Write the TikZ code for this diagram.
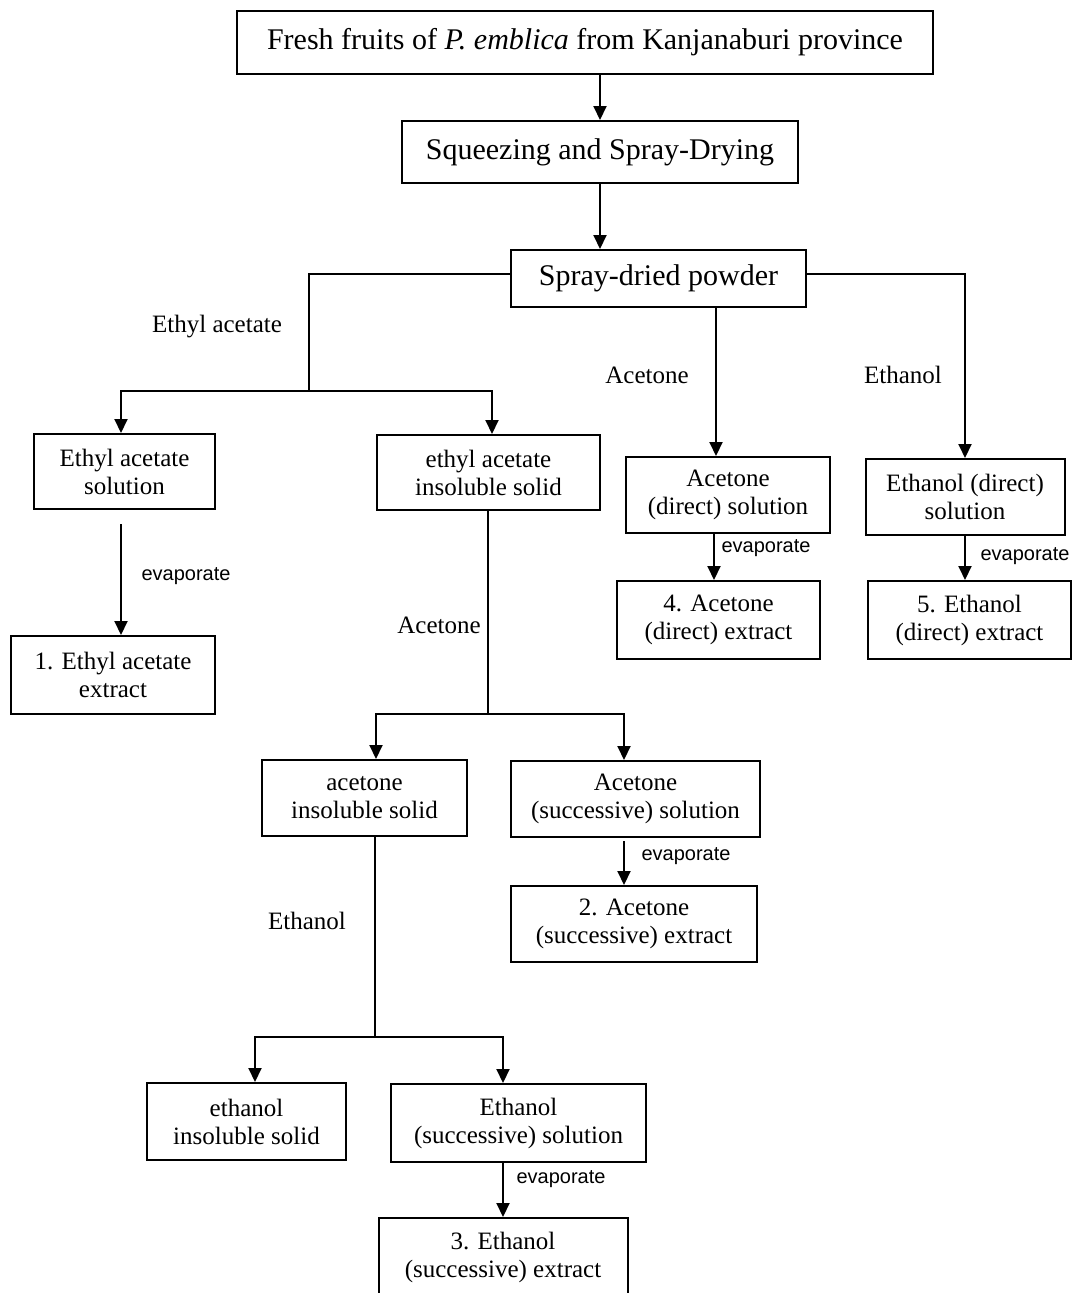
\documentclass[tikz,border=0pt]{standalone}
\usepackage{fontspec}
\setmainfont{Liberation Serif}
\newfontfamily\arialfont{Liberation Sans}
\usetikzlibrary{arrows.meta}
\tikzset{
    bigbox/.style = {rectangle, draw=black, line width=2pt, align=center, inner sep=0pt, font=\fontsize{30}{34}\selectfont},
    stepbox/.style = {rectangle, draw=black, line width=2pt, align=center, inner sep=0pt, font=\fontsize{25}{28}\selectfont},
    solvent/.style = {align=center, inner sep=0pt, font=\fontsize{25}{28}\selectfont},
    evap/.style = {inner sep=0pt, font=\arialfont\fontsize{20}{24}\selectfont},
    edgen/.style = {-, line width=2pt, black},
    edgea/.style = {-{Triangle[width=13pt,length=14pt]}, line width=2pt, black}
}

\begin{document}
\begin{tikzpicture}[x=1pt,y=-1pt]
\useasboundingbox (0,0) rectangle (1073,1293);

% main line
\node[bigbox, minimum width=696pt, minimum height=63pt] at (585, 42.5) (fresh) {Fresh fruits of \textit{P. emblica} from Kanjanaburi province};
\node[bigbox, minimum width=396pt, minimum height=62pt] at (600, 152) (squeeze) {Squeezing and Spray-Drying};
\node[bigbox, minimum width=295pt, minimum height=57pt] at (658.5, 278.5) (powder) {Spray-dried powder};

% first extraction
\node[stepbox, minimum width=181pt, minimum height=75pt] at (124.5, 471.5) (easol) {Ethyl acetate\\solution};
\node[stepbox, minimum width=223pt, minimum height=75pt] at (488.5, 472.5) (eainsol) {ethyl acetate\\insoluble solid};
\node[stepbox, minimum width=204pt, minimum height=76pt] at (728, 495) (acdsol) {Acetone\\(direct) solution};
\node[stepbox, minimum width=199pt, minimum height=76pt] at (965, 497) (etdsol) {Ethanol (direct)\\solution};
\node[stepbox, minimum width=203pt, minimum height=78pt] at (718.5, 620) (acdext) {4. Acetone\\(direct) extract};
\node[stepbox, minimum width=203pt, minimum height=78pt] at (969.5, 620) (etdext) {5. Ethanol\\(direct) extract};
\node[stepbox, minimum width=204pt, minimum height=78pt] at (113, 675) (eaext) {1. Ethyl acetate\\extract};

% successive extraction
\node[stepbox, minimum width=205pt, minimum height=76pt] at (364.5, 798) (acinsol) {acetone\\insoluble solid};
\node[stepbox, minimum width=249pt, minimum height=76pt] at (635.5, 799) (acssol) {Acetone\\(successive) solution};
\node[stepbox, minimum width=246pt, minimum height=76pt] at (634, 924) (acsext) {2. Acetone\\(successive) extract};
\node[stepbox, minimum width=199pt, minimum height=77pt] at (246.5, 1121.5) (etinsol) {ethanol\\insoluble solid};
\node[stepbox, minimum width=255pt, minimum height=78pt] at (518.5, 1123) (etssol) {Ethanol\\(successive) solution};
\node[stepbox, minimum width=249pt, minimum height=78pt] at (503, 1257) (etsext) {3. Ethanol\\(successive) extract};

% solvent labels
\node[solvent] at (217, 327) (lea) {Ethyl acetate};
\node[solvent] at (647, 375) (lac) {Acetone};
\node[solvent] at (903, 375) (let) {Ethanol};
\node[solvent] at (439, 625) (lac2) {Acetone};
\node[solvent] at (307, 921) (let2) {Ethanol};
\node[evap] at (186, 576) (ev1) {evaporate};
\node[evap] at (766, 548) (ev4) {evaporate};
\node[evap] at (1025, 556) (ev5) {evaporate};
\node[evap] at (686, 856) (ev2) {evaporate};
\node[evap] at (561, 1179) (ev3) {evaporate};

% junctions
\coordinate (eaj) at (309, 391);
\coordinate (acj) at (488, 714);
\coordinate (etj) at (375, 1037);
\coordinate (acin) at ([xshift=-12pt]acdsol.north);
\coordinate (eaout) at ([shift={(-3.5pt,-14pt)}]easol.south);
\coordinate (acdout) at ([xshift=-14pt]acdsol.south);
\coordinate (acsout) at ([shift={(-11.5pt,-3pt)}]acssol.south);

\draw[edgea] (squeeze.north |- fresh.south) -- (squeeze.north);
\draw[edgea] (squeeze.south) -- (squeeze.south |- powder.north);

\draw[edgen] ([yshift=4.5pt]powder.west) -| (eaj);
\draw[edgea] (eaj) -| ([xshift=-3.5pt]easol.north);
\draw[edgea] (eaj) -| ([xshift=3.5pt]eainsol.north);
\draw[edgea] (acin |- powder.south) -- (acin);
\draw[edgea] ([yshift=4.5pt]powder.east) -| (etdsol.north);

\draw[edgea] (eaout) -- (eaout |- eaext.north);
\draw[edgea] (acdout) -- (acdout |- acdext.north);
\draw[edgea] (etdsol.south) -- (etdsol.south |- etdext.north);

\draw[edgen] (acj |- eainsol.south) -- (acj);
\draw[edgea] (acj) -| ([xshift=11.5pt]acinsol.north);
\draw[edgea] (acj) -| ([xshift=-11.5pt]acssol.north);
\draw[edgea] (acsout) -- (acsout |- acsext.north);

\draw[edgen] ([xshift=10.5pt]acinsol.south) -- (etj);
\draw[edgea] (etj) -| ([xshift=8.5pt]etinsol.north);
\draw[edgea] (etj) -| ([xshift=-15.5pt]etssol.north);
\draw[edgea] (etsext.north |- etssol.south) -- (etsext.north);

\end{tikzpicture}
\end{document}
